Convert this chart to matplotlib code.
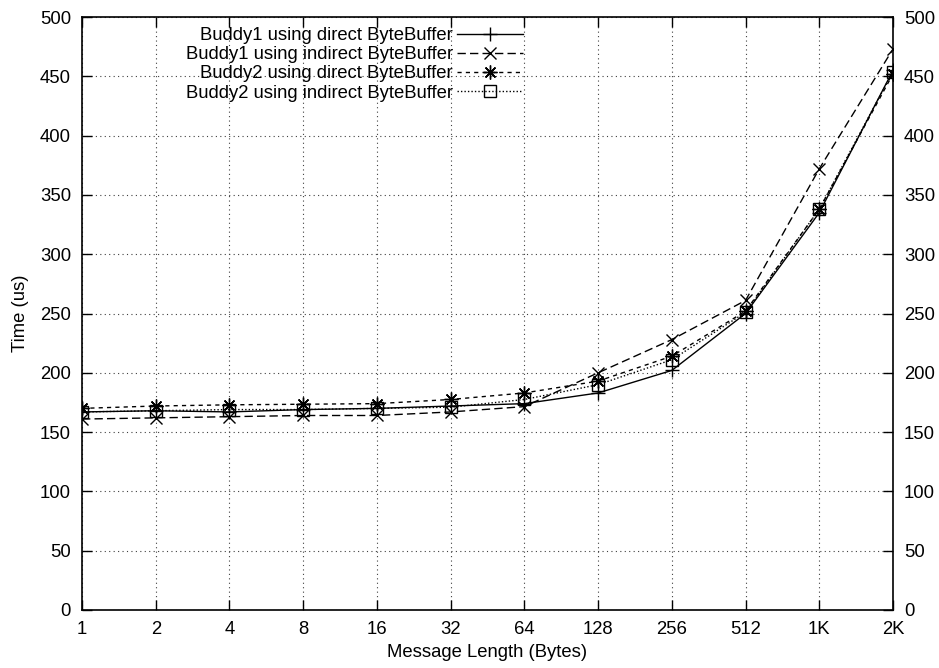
import matplotlib
matplotlib.use("Agg")
import matplotlib.pyplot as plt
from matplotlib.ticker import FixedLocator, NullLocator

plt.rcParams['font.family'] = ['Liberation Sans', 'DejaVu Sans']

sizes = [1, 2, 4, 8, 16, 32, 64, 128, 256, 512, 1024, 2048]
size_labels = ["1", "2", "4", "8", "16", "32", "64", "128", "256", "512", "1K", "2K"]
buddy1_direct = [167, 168, 167, 169, 170, 172, 174, 183, 202, 250, 335, 455]
buddy1_indirect = [161, 162, 163, 164, 164, 167, 171.5, 200, 228, 261, 372, 473]
buddy2_direct = [170, 172, 173, 173.5, 174, 177.5, 183, 193, 214, 252, 338, 452]
buddy2_indirect = [167, 168, 169, 169, 170, 171, 177.5, 190, 211, 251, 338, 454]
y_ticks = list(range(0, 501, 50))

FS = 13.3
fig = plt.figure(figsize=(9.39, 6.68), dpi=100)
ax = fig.add_axes([82/939, 58/668, (893-82)/939, (610-17)/668])

ax.set_xscale('log', base=2)
ax.plot(sizes, buddy1_direct, color='black', lw=1, ls='-', marker='+', ms=10, mew=1,
        label='Buddy1 using direct ByteBuffer')
ax.plot(sizes, buddy1_indirect, color='black', lw=1, ls=(0, (6, 3)), marker='x', ms=9, mew=1,
        label='Buddy1 using indirect ByteBuffer')
ax.plot(sizes, buddy2_direct, color='black', lw=1, ls=(0, (3, 3)), marker=(8, 2, 0), ms=10, mew=1,
        label='Buddy2 using direct ByteBuffer')
ax.plot(sizes, buddy2_indirect, color='black', lw=1, ls=(0, (1, 1.5)), marker='s', ms=9, mew=1,
        mfc='none', label='Buddy2 using indirect ByteBuffer')

ax.set_xlim(1, 2048)
ax.set_ylim(0, 500)
ax.xaxis.set_major_locator(FixedLocator(sizes))
ax.xaxis.set_minor_locator(NullLocator())
ax.set_xticklabels(size_labels)
ax.set_yticks(y_ticks)

ax.grid(True, color='0.25', ls=(0, (1, 3)), lw=0.8)
ax.tick_params(axis='both', which='major', direction='in', length=7, width=1,
               labelsize=FS, top=True, right=True, labelright=True, pad=8)
for s in ax.spines.values():
    s.set_linewidth(1.2)

ax.set_xlabel('Message Length (Bytes)', fontsize=FS, labelpad=4)
ax.set_ylabel('Time (us)', fontsize=FS, labelpad=8)

leg = ax.legend(loc='upper right', bbox_to_anchor=(523/939, 1 - 27/668),
                bbox_transform=fig.transFigure, frameon=False, markerfirst=False,
                fontsize=FS, handlelength=3.6, handletextpad=0.2, labelspacing=0.12,
                borderaxespad=0, borderpad=0)
for t in leg.get_texts():
    t.set_ha('right')
leg._legend_box.align = 'right'

fig.savefig('out.png', dpi=100)
